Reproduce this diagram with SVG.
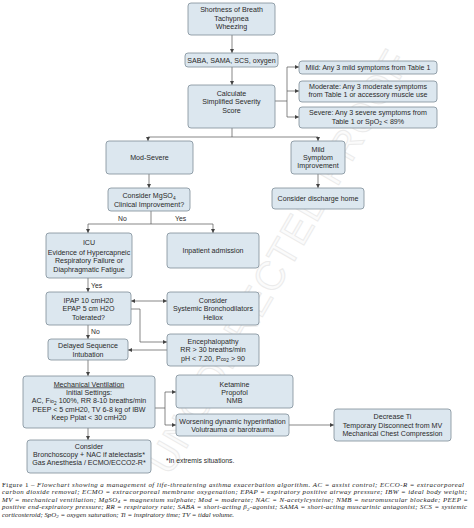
<svg xmlns="http://www.w3.org/2000/svg" width="474" height="528" viewBox="0 0 474 528">
<defs>
<marker id="ah" viewBox="0 0 6 6" refX="6" refY="3" markerWidth="4" markerHeight="4" orient="auto-start-reverse" markerUnits="userSpaceOnUse"><path d="M0,0 L6,3 L0,6 z" fill="#444"/></marker>
<style>
.box{fill:#dce7ef;stroke:#7e8d98;stroke-width:0.8}
.t{font-family:"Liberation Sans",Arial,sans-serif;font-size:7.1px;fill:#2a2a2a;text-anchor:middle}
.lbl{font-family:"Liberation Sans",Arial,sans-serif;font-size:6.8px;fill:#2a2a2a}
.c{fill:none;stroke:#555;stroke-width:0.7}
.a{marker-end:url(#ah)}
.cap{font-family:"Liberation Serif","Times New Roman",serif;font-size:6.9px;font-style:italic;fill:#222}
.wm{font-family:"Liberation Sans",Arial,sans-serif;font-size:40px;fill:#fbfbfb;stroke:#ebebeb;stroke-width:1}
</style>
</defs>
<rect width="474" height="528" fill="#ffffff"/>
<text class="wm" x="-240" y="14" textLength="480" lengthAdjust="spacing" transform="translate(278,262) rotate(-60)">UNCORRECTED PROOF</text>

<g id="connectors">
<path class="c a" d="M232,35 V53"/>
<path class="c a" d="M232,67 V85"/>
<path class="c" d="M275,101 H287 M287,67 V117"/>
<path class="c a" d="M287,67 H299"/>
<path class="c a" d="M287,91 H299"/>
<path class="c a" d="M287,117 H299"/>
<path class="c" d="M232,128 V137 M148,137 H318"/>
<path class="c a" d="M148,137 V141"/>
<path class="c a" d="M318,137 V141"/>
<path class="c a" d="M318,174 V188"/>
<path class="c a" d="M149,174 V188"/>
<path class="c" d="M151,211 V224 M88,224 H213"/>
<path class="c a" d="M88,224 V233"/>
<path class="c a" d="M213,224 V233"/>
<path class="c a" d="M88,278 V292"/>
<path class="c a" d="M131,301 H167" marker-start="url(#ah)"/>
<path class="c a" d="M131,309 H140 V342 H167"/>
<path class="c a" d="M88,325 V339"/>
<path class="c a" d="M167,350 H128"/>
<path class="c a" d="M88,360 V376"/>
<path class="c" d="M155,408 H165 M165,392 V425"/>
<path class="c a" d="M165,392 H176"/>
<path class="c a" d="M165,425 H176"/>
<path class="c a" d="M289,425 H334"/>
<path class="c a" d="M88,428 V440"/>
<text class="lbl" x="118" y="221">No</text>
<text class="lbl" x="175" y="221">Yes</text>
<text class="lbl" x="91" y="288">Yes</text>
<text class="lbl" x="91" y="334">No</text>
</g>

<g id="n-sob"><rect class="box" x="188" y="3" width="87" height="32" rx="3"/>
<text class="t" x="231.5" y="12">Shortness of Breath</text><text class="t" x="231.5" y="20.5">Tachypnea</text><text class="t" x="231.5" y="29">Wheezing</text></g>

<g id="n-saba"><rect class="box" x="185" y="53" width="93" height="14" rx="3"/>
<text class="t" x="231.5" y="62.5">SABA, SAMA, SCS, oxygen</text></g>

<g id="n-calc"><rect class="box" x="188" y="85" width="87" height="43" rx="3"/>
<text class="t" x="231.5" y="95.5">Calculate</text><text class="t" x="231.5" y="104">Simplified Severity</text><text class="t" x="231.5" y="112.5">Score</text></g>

<g id="n-mild"><rect class="box" x="299" y="61" width="138" height="13" rx="3"/>
<text class="t" x="368" y="70">Mild: Any 3 mild symptoms from Table 1</text></g>

<g id="n-moderate"><rect class="box" x="299" y="81" width="138" height="21" rx="3"/>
<text class="t" x="368" y="89">Moderate: Any 3 moderate symptoms</text><text class="t" x="368" y="97.4">from Table 1 or accessory muscle use</text></g>

<g id="n-severe"><rect class="box" x="299" y="107" width="138" height="21" rx="3"/>
<text class="t" x="368" y="115.2">Severe: Any 3 severe symptoms from</text><text class="t" x="368" y="123.8">Table 1 or SpO<tspan font-size="4.8" dy="1.6">2</tspan><tspan dy="-1.6"> &lt; 89%</tspan></text></g>

<g id="n-modsevere"><rect class="box" x="106" y="141" width="87" height="33" rx="3"/>
<text class="t" x="149.5" y="160">Mod-Severe</text></g>

<g id="n-mildimp"><rect class="box" x="291" y="141" width="54" height="33" rx="3"/>
<text class="t" x="318" y="151.5">Mild</text><text class="t" x="318" y="160">Symptom</text><text class="t" x="318" y="168.4">Improvement</text></g>

<g id="n-discharge"><rect class="box" x="272" y="188" width="92" height="21" rx="3"/>
<text class="t" x="318" y="201">Consider discharge home</text></g>

<g id="n-mgso4"><rect class="box" x="108" y="188" width="82" height="23" rx="3"/>
<text class="t" x="149" y="198">Consider MgSO<tspan font-size="4.8" dy="1.6">4</tspan></text><text class="t" x="149" y="206.5">Clinical Improvement?</text></g>

<g id="n-icu"><rect class="box" x="46" y="233" width="86" height="45" rx="3"/>
<text class="t" x="89" y="245">ICU</text><text class="t" x="89" y="255">Evidence of Hypercapneic</text><text class="t" x="89" y="263.4">Respiratory Failure or</text><text class="t" x="89" y="271.8">Diaphragmatic Fatigue</text></g>

<g id="n-inpatient"><rect class="box" x="167" y="233" width="92" height="35" rx="3"/>
<text class="t" x="213" y="253">Inpatient admission</text></g>

<g id="n-ipap"><rect class="box" x="46" y="292" width="85" height="33" rx="3"/>
<text class="t" x="88.5" y="303">IPAP 10 cmH20</text><text class="t" x="88.5" y="311.4">EPAP 5 cm H2O</text><text class="t" x="88.5" y="319.8">Tolerated?</text></g>

<g id="n-bronch"><rect class="box" x="167" y="292" width="92" height="33" rx="3"/>
<text class="t" x="213" y="303">Consider</text><text class="t" x="213" y="311.4">Systemic Bronchodilators</text><text class="t" x="213" y="319.8">Heliox</text></g>

<g id="n-delayed"><rect class="box" x="48" y="339" width="80" height="21" rx="3"/>
<text class="t" x="88" y="348.3">Delayed Sequence</text><text class="t" x="88" y="356.6">Intubation</text></g>

<g id="n-enceph"><rect class="box" x="167" y="334" width="92" height="32" rx="3"/>
<text class="t" x="213" y="344">Encephalopathy</text><text class="t" x="213" y="352.4">RR &gt; 30 breaths/min</text><text class="t" x="213" y="360.8">pH &lt; 7.20, P<tspan font-size="5.4">co</tspan><tspan font-size="4.8" dy="1.6">2</tspan><tspan dy="-1.6"> &gt; 90</tspan></text></g>

<g id="n-mechvent"><rect class="box" x="23" y="376" width="132" height="52" rx="3"/>
<text class="t" x="89" y="386.5" text-decoration="underline">Mechanical Ventilation</text><text class="t" x="89" y="395">Initial Settings:</text><text class="t" x="89" y="403.3">AC, F<tspan font-size="5.4">io</tspan><tspan font-size="4.8" dy="1.6">2</tspan><tspan dy="-1.6"> 100%, RR 8-10 breaths/min</tspan></text><text class="t" x="89" y="411.6">PEEP &lt; 5 cmH20, TV 6-8 kg of IBW</text><text class="t" x="89" y="420">Keep Pplat &lt; 30 cmH20</text></g>

<g id="n-ketamine"><rect class="box" x="176" y="375" width="117" height="33" rx="3"/>
<text class="t" x="234.5" y="386.5">Ketamine</text><text class="t" x="234.5" y="395">Propofol</text><text class="t" x="234.5" y="403.3">NMB</text></g>

<g id="n-worsening"><rect class="box" x="176" y="414" width="113" height="22" rx="3"/>
<text class="t" x="232.5" y="423.5">Worsening dynamic hyperinflation</text><text class="t" x="232.5" y="432">Volutrauma or barotrauma</text></g>

<g id="n-decrease"><rect class="box" x="334" y="409" width="117" height="32" rx="3"/>
<text class="t" x="392.5" y="419">Decrease Ti</text><text class="t" x="392.5" y="427.5">Temporary Disconnect from MV</text><text class="t" x="392.5" y="436">Mechanical Chest Compression</text></g>

<g id="n-consider"><rect class="box" x="27" y="440" width="124" height="33" rx="3"/>
<text class="t" x="89" y="448.5">Consider</text><text class="t" x="89" y="457">Bronchoscopy + NAC if atelectasis*</text><text class="t" x="89" y="465.3">Gas Anesthesia / ECMO/ECCO2-R*</text></g>

<g id="notes">
<text class="lbl" x="166" y="463" font-size="5.6">*In extremis situations.</text>
<text class="cap" x="2" y="486.5" textLength="462" lengthAdjust="spacing"><tspan font-style="normal">Figure 1 –</tspan> Flowchart showing a management of life-threatening asthma exacerbation algorithm. AC = assist control; ECCO-R = extracorporeal</text>
<text class="cap" x="2" y="494" textLength="465" lengthAdjust="spacing">carbon dioxide removal; ECMO = extracorporeal membrane oxygenation; EPAP = expiratory positive airway pressure; IBW = ideal body weight;</text>
<text class="cap" x="2" y="501.5" textLength="466" lengthAdjust="spacing">MV = mechanical ventilation; MgSO<tspan font-size="4.8" dy="1.5">4</tspan><tspan dy="-1.5"> = magnesium sulphate; Mod = moderate; NAC = N-acetylcysteine; NMB = neuromuscular blockade; PEEP =</tspan></text>
<text class="cap" x="2" y="509" textLength="465" lengthAdjust="spacing">positive end-expiratory pressure; RR = respiratory rate; SABA = short-acting β<tspan font-size="4.8" dy="1.5">2</tspan><tspan dy="-1.5">-agonist; SAMA = short-acting muscarinic antagonist; SCS = systemic</tspan></text>
<text class="cap" x="2" y="516.5">corticosteroid; SpO<tspan font-size="4.8" dy="1.5">2</tspan><tspan dy="-1.5"> = oxygen saturation; Ti = inspiratory time; TV = tidal volume.</tspan></text>
</g>
</svg>
